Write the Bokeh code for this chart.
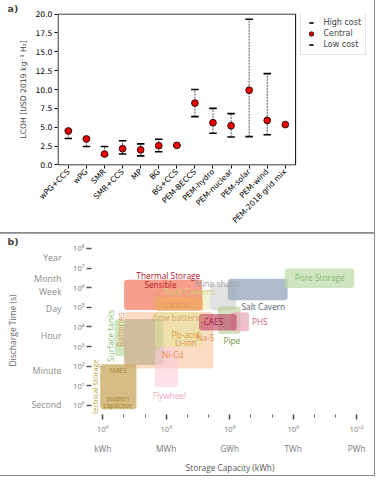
import math
from bokeh.plotting import figure
from bokeh.models import (Range1d, Legend, LegendItem, LinearAxis, Title,
                          FixedTicker, ColumnDataSource, NumeralTickFormatter)
from bokeh.embed import file_html
from bokeh.resources import INLINE
from bokeh.core.properties import value

# ---------------- panel a data ----------------
pathways = ["wPG+CCS", "wPG", "SMR", "SMR+CCS", "MP", "BG", "BG+CCS", "PEM-BECCS",
            "PEM-hydro", "PEM-nuclear", "PEM-solar", "PEM-wind", "PEM-2018 grid mix"]
lcoh_central = [4.5, 3.45, 1.45, 2.15, 2.0, 2.55, 2.6, 8.2, 5.6, 5.2, 9.9, 5.9, 5.35]
lcoh_low = [3.5, 2.45, 1.3, 1.45, 1.2, 1.75, 2.55, 6.4, 4.2, 3.7, 3.75, 4.0, None]
lcoh_high = [4.6, 3.5, 2.45, 3.2, 2.8, 3.4, 2.65, 10.0, 7.5, 6.8, 19.3, 12.1, None]
lcoh_ticks = [0, 2.5, 5, 7.5, 10, 12.5, 15, 17.5, 20]

# ---------------- panel b data (log10 kWh, log10 s) ----------------
tech_boxes = ["Batteries", "Surface tanks", "Pb-acid", "flow batteries", "Rock Caverns",
              "Sensible", "Latent", "Mine shafts", "Salt Cavern", "Pore Storage", "Pipe",
              "PHS", "CAES", "Flywheel", "SMES/capacitor"]
cap_lo = [1.02, 0.57, 1.01, 2.47, 2.47, 1.01, 2.47, 5.06, 5.91, 8.60, 5.45, 6.06, 4.55, 2.47, -0.12]
cap_hi = [5.23, 1.06, 2.88, 4.70, 5.06, 4.70, 4.74, 6.29, 8.74, 11.89, 6.51, 6.92, 6.33, 3.56, 1.59]
time_lo = [1.88, 2.51, 2.06, 2.96, 4.85, 4.86, 4.81, 4.85, 5.36, 5.99, 3.64, 3.78, 3.82, 0.93, -0.19]
time_hi = [4.76, 4.39, 4.40, 4.76, 5.89, 6.41, 5.53, 6.20, 6.46, 6.98, 5.06, 4.75, 4.66, 2.96, 2.10]
box_colors = ["#f6c49c", "#c2dcaa", "#b3a886", "#e2e49a", "#e2e6a8", "#f47e66", "#f0b060",
              "#d2d2d2", "#93a5b9", "#b7d8a2", "#b9cd92", "#eaa7b8", "#c04a6a", "#fbccd9", "#c8a55c"]
box_alpha = [0.6, 0.75, 0.6, 0.55, 0.5, 0.75, 0.6, 0.65, 0.75, 0.65, 0.6, 0.7, 0.65, 0.6, 0.75]

lab_text = ["Thermal Storage", "Sensible", "Rock Caverns", "Latent", "Mine shafts", "Salt Cavern",
            "Pore Storage", "PHS", "CAES", "Pipe", "flow batteries", "Pb-acid", "Li-ion", "Na-S",
            "Ni-Cd", "Flywheel", "SMES", "(super)", "capacitor", "Batteries", "Surface tanks",
            "Electrical Storage"]
lab_x = [3.10, 2.73, 4.11, 3.47, 5.42, 6.56, 10.25, 7.05, 5.23, 6.10, 2.38, 3.92, 3.92, 4.85,
         3.30, 3.15, 0.72, 0.72, 0.72, 0.83, 0.38, -0.35]
lab_y = [6.61, 6.16, 5.79, 5.17, 6.20, 5.03, 6.50, 4.27, 4.27, 3.32, 4.46, 3.64, 3.22, 3.44,
         2.59, 0.53, 1.80, 0.38, -0.01, 3.86, 3.55, 0.86]
lab_color = ["#b3122c", "#c0142c", "#d6d275", "#e0964e", "#a3a3a3", "#4e6573", "#86bb72",
             "#c8677f", "#9e1c40", "#6d8e3e", "#d9a766", "#d8a040", "#e2904f", "#e08e4e",
             "#e2884c", "#f0a6bb", "#a4862e", "#a4862e", "#a4862e", "#e0955a", "#8dbd77", "#b8a138"]
lab_size = ["8.3px"] * 16 + ["6.8px"] * 3 + ["8.3px", "8.3px", "7.3px"]
lab_angle = [0.0] * 19 + [math.pi / 2] * 3
lab_align = ["center", "center", "center", "center", "center", "left", "center", "left",
             "center", "center", "left", "center", "center", "center", "center", "center",
             "center", "center", "center", "center", "center", "center"]

y_exp_ticks = [0, 1, 2, 3, 4, 5, 6, 7, 8]
y_exp_labels = ["10⁰", "10¹", "10²", "10³", "10⁴", "10⁵", "10⁶", "10⁷", "10⁸"]
time_names = ["Second", "Minute", "Hour", "Day", "Week", "Month", "Year"]
time_seconds = [1, 60, 3600, 86400, 604800, 2.63e6, 3.156e7]
x_exp_major = [0, 3, 6, 9, 12]
x_exp_minor = [1, 2, 4, 5, 7, 8, 10, 11]
x_exp_labels = ["10⁰", "10³", "10⁶", "10⁹", "10¹²"]
x_unit_labels = ["kWh", "MWh", "GWh", "TWh", "PWh"]

MPL = "DejaVu Sans"
MYR = "Open Sans"
W = 374
HA, HB = 233, 242
OUTLINE = {"outline": "1.5px solid #8a8a8a"}


def panel_tag(text, off):
    return Title(text=text, align="left", offset=off, standoff=0,
                 text_font=MPL, text_font_style="bold", text_font_size="9.5px")


# ================= panel a =================
idx = list(range(len(pathways)))
PAD = 0.57                      # category padding of the axes box
box_l, box_r = idx[0] - PAD, idx[-1] + PAD
px_per_cat = 18.08
frame_w = W - 57 - 8
x_end = box_l - 0.03 + frame_w / px_per_cat   # frame extends right to hold the legend

pa = figure(width=W, height=HA,
            x_range=Range1d(box_l - 0.03, x_end), y_range=Range1d(-0.07, 20.07),
            output_backend="svg", toolbar_location=None,
            min_border_left=57, min_border_right=8, min_border_top=13, min_border_bottom=68,
            background_fill_color="white", border_fill_color="white", styles=OUTLINE)
pa.title = panel_tag("a)", -50)
pa.grid.visible = False
pa.outline_line_color = None

# axes box around the data area
pa.quad(left=[box_l], right=[box_r], bottom=[lcoh_ticks[0]], top=[lcoh_ticks[-1]],
        fill_color=None, line_color="black", line_width=1)

err_x = [i for i, lo in zip(idx, lcoh_low) if lo is not None]
err_lo = [lo for lo in lcoh_low if lo is not None]
err_hi = [hi for hi in lcoh_high if hi is not None]
src_err = ColumnDataSource(dict(x=err_x, lo=err_lo, hi=err_hi))
src_c = ColumnDataSource(dict(x=idx, y=lcoh_central))

seg = pa.segment(x0="x", y0="lo", x1="x", y1="hi", source=src_err, line_color="#555555",
                 line_width=1, line_dash="2 1")
cap_hi_r = pa.scatter(x="x", y="hi", source=src_err, marker="dash", size=7.5,
                      line_color="black", fill_color="black", line_width=1.6)
cap_lo_r = pa.scatter(x="x", y="lo", source=src_err, marker="dash", size=7.5,
                      line_color="black", fill_color="black", line_width=1.6)
dots = pa.scatter(x="x", y="y", source=src_c, marker="circle", size=6.8,
                  fill_color="#ee0000", line_color="black", line_width=0.8)

pa.xaxis.ticker = FixedTicker(ticks=idx)
pa.xaxis.major_label_overrides = dict(zip(idx, pathways))
pa.xaxis.major_label_orientation = math.pi / 4
pa.yaxis.ticker = FixedTicker(ticks=lcoh_ticks)
pa.yaxis.formatter = NumeralTickFormatter(format="0.0")
pa.yaxis.axis_label = "LCOH [USD 2019 kg⁻¹ H₂]"
pa.yaxis.axis_label_standoff = 4
for ax in (pa.xaxis, pa.yaxis):
    ax.major_label_text_font = MPL
    ax.major_label_text_font_size = "7.7px"
    ax.major_label_text_color = "black"
    ax.axis_label_text_font = MPL
    ax.axis_label_text_font_size = "7.7px"
    ax.axis_label_text_font_style = "normal"
    ax.major_tick_in = 0
    ax.major_tick_out = 3
    ax.minor_tick_line_color = None
    ax.major_label_standoff = 2
    ax.axis_line_color = None

legend = Legend(items=[LegendItem(label="High cost", renderers=[cap_hi_r]),
                       LegendItem(label="Central", renderers=[dots]),
                       LegendItem(label="Low cost", renderers=[cap_lo_r])],
                location=(242.5, 110), margin=0, padding=4, spacing=0,
                glyph_width=12, glyph_height=11, label_height=11, label_standoff=7,
                label_text_font=MPL, label_text_font_size="8px",
                border_line_color="#cccccc", border_line_width=1,
                background_fill_color="white", background_fill_alpha=1)
pa.add_layout(legend)

# ================= panel b =================
pb = figure(width=W, height=HB,
            x_range=Range1d(-0.53, 12.56), y_range=Range1d(-0.46, 8.1),
            output_backend="svg", toolbar_location=None,
            min_border_left=91, min_border_right=6, min_border_top=12, min_border_bottom=52,
            background_fill_color="white", border_fill_color="white", styles=OUTLINE)
pb.title = panel_tag("b)", -84)
pb.grid.visible = False
pb.outline_line_color = None

src_box = ColumnDataSource(dict(l=cap_lo, r=cap_hi, b=time_lo, t=time_hi,
                                c=box_colors, a=box_alpha))
pb.quad(left="l", right="r", bottom="b", top="t", fill_color="c", fill_alpha="a",
        line_color=None, border_radius=3, source=src_box)

src_lab = ColumnDataSource(dict(x=lab_x, y=lab_y, t=lab_text, c=lab_color, s=lab_size,
                                a=lab_angle, al=lab_align))
pb.text(x="x", y="y", text="t", text_color="c", text_font_size="s", angle="a",
        text_align="al", text_baseline="middle", text_font=value(MYR), source=src_lab)

# y axes
pb.yaxis.ticker = FixedTicker(ticks=y_exp_ticks)
pb.yaxis.major_label_overrides = dict(zip(y_exp_ticks, y_exp_labels))
time_exp = [round(math.log10(s), 4) for s in time_seconds]
ax_time = LinearAxis(ticker=FixedTicker(ticks=time_exp),
                     major_label_overrides=dict(zip(time_exp, time_names)))
pb.add_layout(ax_time, "left")
pb.yaxis.axis_line_color = None

ax_y = pb.yaxis[0]
ax_y.major_tick_in = 0
ax_y.major_tick_out = 5
ax_y.major_tick_line_color = "#555555"
ax_y.major_tick_line_width = 1.5
ax_y.minor_tick_line_color = None
ax_y.major_label_standoff = 2
ax_y.major_label_text_font = MYR
ax_y.major_label_text_font_size = "7.7px"
ax_y.major_label_text_color = "#7a7a7a"

ax_time.major_tick_line_color = None
ax_time.minor_tick_line_color = None
ax_time.major_label_standoff = 3
ax_time.major_label_text_font = MYR
ax_time.major_label_text_font_size = "8.8px"
ax_time.major_label_text_color = "#8a8a8a"
ax_time.axis_label = "Discharge Time (s)"
ax_time.axis_label_standoff = 10
ax_time.axis_label_text_font = MYR
ax_time.axis_label_text_font_size = "8.5px"
ax_time.axis_label_text_font_style = "normal"
ax_time.axis_label_text_color = "#666666"

# x axes
ax_x = pb.xaxis[0]
ax_x.ticker = FixedTicker(ticks=x_exp_major, minor_ticks=x_exp_minor)
ax_x.major_label_overrides = dict(zip(x_exp_major, x_exp_labels))
ax_x.axis_line_color = None
ax_x.major_tick_in = 0
ax_x.major_tick_out = 5
ax_x.minor_tick_in = 0
ax_x.minor_tick_out = 3
ax_x.major_tick_line_color = "#444444"
ax_x.major_tick_line_width = 1.5
ax_x.minor_tick_line_color = "#666666"
ax_x.minor_tick_line_width = 1
ax_x.major_label_standoff = 4
ax_x.major_label_text_font = MYR
ax_x.major_label_text_font_size = "7.7px"
ax_x.major_label_text_color = "#7a7a7a"

ax_unit = LinearAxis(ticker=FixedTicker(ticks=x_exp_major),
                     major_label_overrides=dict(zip(x_exp_major, x_unit_labels)))
pb.add_layout(ax_unit, "below")
ax_unit.axis_line_color = None
ax_unit.major_tick_line_color = None
ax_unit.minor_tick_line_color = None
ax_unit.major_label_standoff = 0
ax_unit.major_label_text_font = MYR
ax_unit.major_label_text_font_size = "8.3px"
ax_unit.major_label_text_color = "#7a7a7a"
ax_unit.axis_label = "Storage Capacity (kWh)"
ax_unit.axis_label_standoff = 5
ax_unit.axis_label_text_font = MYR
ax_unit.axis_label_text_font_size = "8.3px"
ax_unit.axis_label_text_font_style = "normal"
ax_unit.axis_label_text_color = "#555555"

open("out.html", "w").write(file_html([pa, pb], INLINE))
